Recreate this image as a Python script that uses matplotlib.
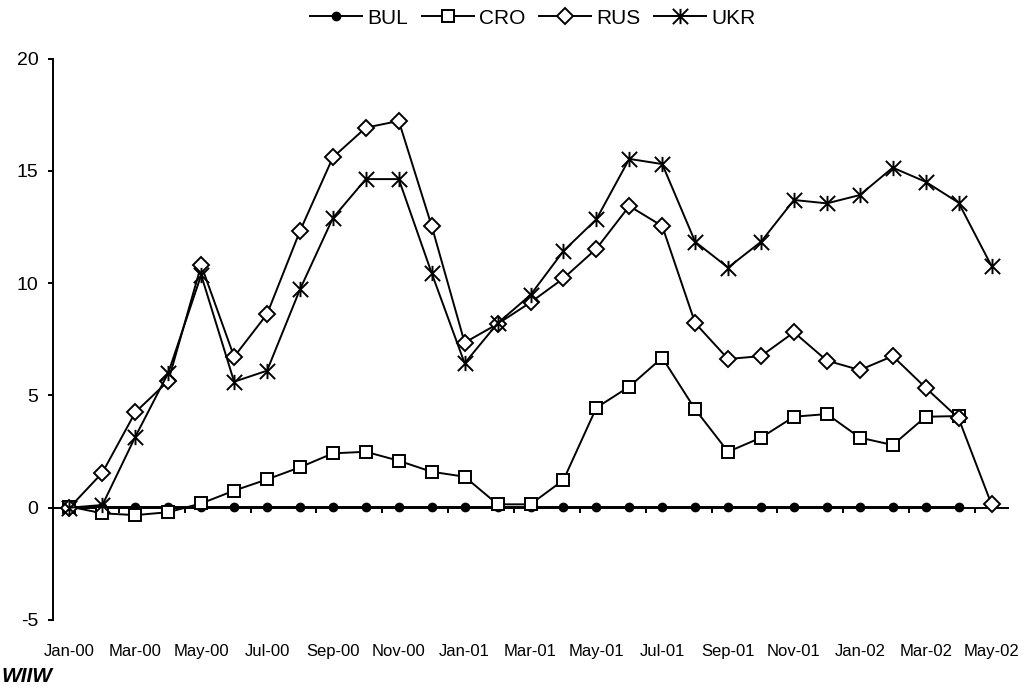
import matplotlib
matplotlib.use("Agg")
import matplotlib.pyplot as plt
import numpy as np
from matplotlib.path import Path

months = ["Jan-00", "Feb-00", "Mar-00", "Apr-00", "May-00", "Jun-00", "Jul-00", "Aug-00",
          "Sep-00", "Oct-00", "Nov-00", "Dec-00", "Jan-01", "Feb-01", "Mar-01", "Apr-01",
          "May-01", "Jun-01", "Jul-01", "Aug-01", "Sep-01", "Oct-01", "Nov-01", "Dec-01",
          "Jan-02", "Feb-02", "Mar-02", "Apr-02", "May-02"]

bul = [0.05] * 28 + [np.nan]
cro = [0.05, -0.25, -0.33, -0.2, 0.19, 0.76, 1.26, 1.8, 2.42, 2.49, 2.09, 1.6, 1.38, 0.15,
       0.15, 1.23, 4.45, 5.39, 6.68, 4.38, 2.49, 3.12, 4.05, 4.17, 3.12, 2.79, 4.05, 4.08, np.nan]
rus = [0.0, 1.56, 4.25, 5.64, 10.8, 6.72, 8.62, 12.32, 15.6, 16.92, 17.22, 12.54, 7.35, 8.18,
       9.14, 10.21, 11.53, 13.43, 12.54, 8.22, 6.62, 6.75, 7.81, 6.55, 6.13, 6.75, 5.34, 3.98, 0.15]
ukr = [0.0, 0.12, 3.16, 6.0, 10.36, 5.61, 6.1, 9.72, 12.9, 14.63, 14.63, 10.44, 6.43, 8.21,
       9.47, 11.43, 12.84, 15.53, 15.3, 11.84, 10.69, 11.84, 13.7, 13.55, 13.92, 15.14, 14.51,
       13.58, 10.76]
yticks = [-5, 0, 5, 10, 15, 20]

x = np.arange(len(months))

# Excel-like star marker: vertical line + X
star = Path([(0, -1), (0, 1), (-1, -1), (1, 1), (-1, 1), (1, -1)],
            [Path.MOVETO, Path.LINETO, Path.MOVETO, Path.LINETO, Path.MOVETO, Path.LINETO])

fig = plt.figure(figsize=(10.26, 6.88), dpi=100)
ax = fig.add_axes([53 / 1026, 1 - 620 / 688, (1008 - 53) / 1026, (620 - 58.5) / 688])

lw = 1.4
ax.plot(x, bul, color="black", lw=lw, marker="o", ms=6, mfc="black", mec="black", label="BUL", zorder=3)
ax.plot(x, cro, color="black", lw=lw, marker="s", ms=9, mfc="white", mec="black", mew=1.4, label="CRO", zorder=4)
ax.plot(x, rus, color="black", lw=lw, marker="D", ms=8, mfc="white", mec="black", mew=1.4, label="RUS", zorder=5)
ax.plot(x, ukr, color="black", lw=lw, marker=star, ms=11, mfc="none", mec="black", mew=1.4, label="UKR", zorder=6)

ax.set_xlim(-0.5, len(months) - 0.5)
ax.set_ylim(-5, 20)
ax.set_yticks(yticks)
ax.set_yticklabels([str(v) for v in yticks], fontsize=14, family="Liberation Sans")
ax.tick_params(axis="y", direction="out", length=3.6, width=1.4, pad=7)

ax.spines["top"].set_visible(False)
ax.spines["right"].set_visible(False)
ax.spines["bottom"].set_position(("data", 0))
for s in ("left", "bottom"):
    ax.spines[s].set_linewidth(1.4)
    ax.spines[s].set_zorder(2)

ax.set_xticks(np.arange(1.5, len(months), 2))
ax.set_xticklabels([])
ax.tick_params(axis="x", direction="out", length=3.6, width=1.4)

sec = ax.secondary_xaxis(0)
sec.set_xticks(x[::2])
sec.set_xticklabels(months[::2], fontsize=12, family="Liberation Sans")
sec.tick_params(length=0, pad=17)
sec.spines["bottom"].set_visible(False)

fig.legend(loc="center", bbox_to_anchor=(533 / 1026, 1 - 18 / 688), ncol=4, frameon=False,
           prop={"family": "Liberation Sans", "size": 15}, handlelength=2.5,
           handletextpad=0.25, columnspacing=0.65)

fig.text(0.001, 1 - 676 / 688, "WIIW", fontsize=15, fontweight="bold", fontstyle="italic",
         family="Liberation Sans", ha="left", va="center")

fig.savefig("out.png", dpi=100)
